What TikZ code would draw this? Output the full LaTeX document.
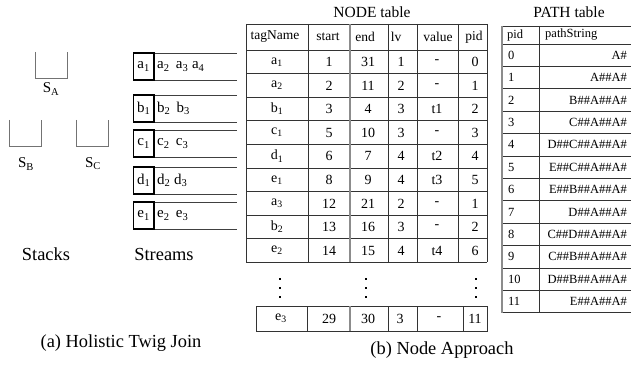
\documentclass[tikz,border=0pt]{standalone}
\usepackage{fontspec}
\setmainfont{Liberation Serif}
\begin{document}
\begin{tikzpicture}[x=1pt,y=-1pt,
  gridline/.style={draw=black!80, line width=0.7pt},
  softline/.style={draw=black!45, line width=1.4pt},
  stackline/.style={draw=black!55, line width=1pt},
  streamline/.style={draw=black!75, line width=0.7pt},
  headbox/.style={draw=black, line width=1.7pt},
  dotmark/.style={fill=black, draw=none},
  txt/.style={inner sep=0pt, anchor=center},
  celltxt/.style={txt, font=\fontsize{14}{16}\selectfont},
  headtxt/.style={txt, font=\fontsize{13.5}{16}\selectfont},
  pathtxt/.style={inner sep=0pt, font=\fontsize{12.5}{14}\selectfont},
  titletxt/.style={txt, font=\fontsize{15.5}{18}\selectfont},
  captiontxt/.style={txt, font=\fontsize{18.4}{20}\selectfont},
  itemtxt/.style={inner sep=0pt, font=\fontsize{15}{17}\selectfont}
]
\useasboundingbox (0,0) rectangle (631,366);

% ---------------- (a) stacks ----------------
\draw[stackline] (35,52) -- (35,79) -- (67,79) -- (67,52);
\draw[stackline] (9,120) -- (9,147) -- (41,147) -- (41,120);
\draw[stackline] (76,120) -- (76,147) -- (108,147) -- (108,120);
\node[itemtxt] (sA) at (51,89) {S\textsubscript{A}};
\node[itemtxt] (sB) at (26,164) {S\textsubscript{B}};
\node[itemtxt] (sC) at (93,164) {S\textsubscript{C}};

% ---------------- (a) streams ----------------
\foreach \top/\first/\rest [count=\i] in {
  53/{a\textsubscript{1}}/{a\textsubscript{2}\,\ a\textsubscript{3} a\textsubscript{4}},
  95/{b\textsubscript{1}}/{b\textsubscript{2}\,\ b\textsubscript{3}},
  130/{c\textsubscript{1}}/{c\textsubscript{2}\,\ c\textsubscript{3}},
  167/{d\textsubscript{1}}/{d\textsubscript{2} d\textsubscript{3}},
  202/{e\textsubscript{1}}/{e\textsubscript{2}\,\ e\textsubscript{3}}} {
  \draw[streamline] (133,\top) -- (237,\top);
  \draw[streamline] (133,\top+27) -- (237,\top+27);
  \draw[headbox] (133.5,\top) rectangle (154,\top+27);
  \node[itemtxt, anchor=center] (sf\i) at (143.7,\top+13.5) {\first};
  \node[itemtxt, anchor=west] (sr\i) at (157,\top+13.5) {\rest};
}
\node[captiontxt] (stacks) at (46,254) {Stacks};
\node[captiontxt] (streams) at (164,254) {Streams};
\node[captiontxt] (capa) at (121,343) {(a) Holistic Twig Join};

% ---------------- (b) NODE table ----------------
\node[titletxt] (nodetitle) at (372,12) {NODE table};
% horizontal rules
\foreach \k in {0,...,9}
  \draw[gridline] (246,50+\k*23.6) -- (487,50+\k*23.6);
\draw[gridline] (246,24) -- (487,24);
% vertical rules
\foreach \xx in {246,308,388,417,458,487}
  \draw[gridline] (\xx,24) -- (\xx,262.4);
\draw[softline] (350,24) -- (350,262.4);
% header
\node[headtxt] (h1) at (275,37) {tagName};
\node[headtxt] (h2) at (328,37) {start};
\node[headtxt] (h3) at (365,37) {end};
\node[headtxt] (h4) at (396,37) {lv};
\node[headtxt] (h5) at (438,37) {value};
\node[headtxt] (h6) at (474,37) {pid};
% body
\foreach \tg/\st/\en/\lv/\va/\pd [count=\r] in {
  a\textsubscript{1}/1/31/1/-/0,
  a\textsubscript{2}/2/11/2/-/1,
  b\textsubscript{1}/3/4/3/t1/2,
  c\textsubscript{1}/5/10/3/-/3,
  d\textsubscript{1}/6/7/4/t2/4,
  e\textsubscript{1}/8/9/4/t3/5,
  a\textsubscript{3}/12/21/2/-/1,
  b\textsubscript{2}/13/16/3/-/2,
  e\textsubscript{2}/14/15/4/t4/6} {
  \pgfmathsetmacro{\yc}{50+11.8+(\r-1)*23.6}
  \node[celltxt] (t\r) at (277,\yc) {\tg};
  \node[celltxt] (s\r) at (329,\yc) {\st};
  \node[celltxt] (e\r) at (368,\yc) {\en};
  \node[celltxt] (l\r) at (401,\yc) {\lv};
  \node[celltxt] (v\r) at (437,\yc) {\va};
  \node[celltxt] (p\r) at (475,\yc) {\pd};
}
% vertical ellipsis marks
\foreach \xx in {280,366,476}
  \foreach \yy in {279,288,297}
    \fill[dotmark] (\xx-1.3,\yy-1.3) rectangle (\xx+1.3,\yy+1.3);
% last row
\draw[gridline] (256,306) rectangle (487,331);
\foreach \xx in {307,388,417,463}
  \draw[gridline] (\xx,306) -- (\xx,331);
\draw[softline] (350,306) -- (350,331);
\node[celltxt] (tl) at (281,318.5) {e\textsubscript{3}};
\node[celltxt] (sl) at (329,318.5) {29};
\node[celltxt] (el) at (368,318.5) {30};
\node[celltxt] (ll) at (400,318.5) {3};
\node[celltxt] (vl) at (439,318.5) {-};
\node[celltxt] (pl) at (475,318.5) {11};
\node[captiontxt] (capb) at (442,350) {(b) Node Approach};

% ---------------- (b) PATH table ----------------
\node[titletxt] (pathtitle) at (569,12) {PATH table};
\draw[gridline] (502,26) -- (631,26);
\draw[gridline] (502,44) -- (631,44);
\foreach \k in {1,...,12}
  \draw[gridline] (502,44+\k*22.4) -- (631,44+\k*22.4);
\draw[softline] (502,26) -- (502,312.8);
\draw[gridline] (539,26) -- (539,312.8);
\node[pathtxt, anchor=west] (ph1) at (507,35) {pid};
\node[pathtxt, anchor=west] (ph2) at (545,35) {pathString};
\foreach \ps [count=\k from 0] in {A\#, A\#\#A\#, B\#\#A\#\#A\#, C\#\#A\#\#A\#,
  D\#\#C\#\#A\#\#A\#, E\#\#C\#\#A\#\#A\#, E\#\#B\#\#A\#\#A\#, D\#\#A\#\#A\#,
  C\#\#D\#\#A\#\#A\#, C\#\#B\#\#A\#\#A\#, D\#\#B\#\#A\#\#A\#, E\#\#A\#\#A\#} {
  \pgfmathsetmacro{\yc}{44+11.2+\k*22.4}
  \node[pathtxt, anchor=west] (pid\k) at (508,\yc) {\k};
  \node[pathtxt, anchor=east] (pstr\k) at (627,\yc) {\ps};
}
\end{tikzpicture}
\end{document}
